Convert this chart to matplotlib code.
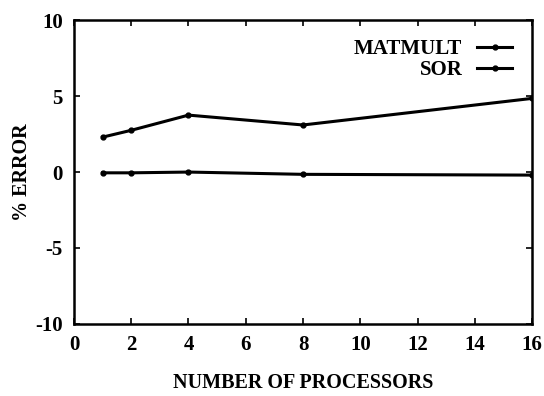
import matplotlib.pyplot as plt

# Data
processors = [1, 2, 4, 8, 16]
matmult_error = [2.3, 2.75, 3.75, 3.1, 4.85]
sor_error = [-0.05, -0.05, 0.0, -0.15, -0.2]

x_ticks = [0, 2, 4, 6, 8, 10, 12, 14, 16]
y_ticks = [-10, -5, 0, 5, 10]

plt.rcParams["font.family"] = ["Liberation Serif", "DejaVu Serif"]
plt.rcParams["font.weight"] = "bold"
plt.rcParams["axes.unicode_minus"] = False

fig = plt.figure(figsize=(5.44, 3.96), dpi=100)
ax = fig.add_axes([0.136, 0.182, 0.842, 0.767])

ax.plot(processors, matmult_error, color="black", linewidth=2.2,
        marker="o", markersize=3.5, label="MATMULT")
ax.plot(processors, sor_error, color="black", linewidth=2.2,
        marker="o", markersize=3.5, label="SOR")

ax.set_xlim(0, 16)
ax.set_ylim(-10, 10)
ax.set_xticks(x_ticks)
ax.set_yticks(y_ticks)
ax.tick_params(direction="in", length=4, width=1.2, top=True, right=True,
               labelsize=15, pad=8)
for lbl in ax.get_xticklabels() + ax.get_yticklabels():
    lbl.set_fontweight("bold")
for spine in ax.spines.values():
    spine.set_linewidth(1.8)

ax.set_xlabel("NUMBER OF PROCESSORS", fontsize=14.5, fontweight="bold")
ax.set_ylabel("% ERROR", fontsize=14.5, fontweight="bold")
ax.xaxis.set_label_coords(0.5, -0.194)
ax.yaxis.set_label_coords(-0.114, 0.5)
ax.xaxis.label.set_va("center")
ax.yaxis.label.set_va("center")

ax.legend(loc="upper right", frameon=False, markerfirst=False,
          handlelength=1.7, handletextpad=0.7, numpoints=1, labelspacing=0.05,
          borderpad=0, bbox_to_anchor=(0.98, 0.973),
          prop={"weight": "bold", "size": 15})

fig.savefig("out.png", dpi=100)
